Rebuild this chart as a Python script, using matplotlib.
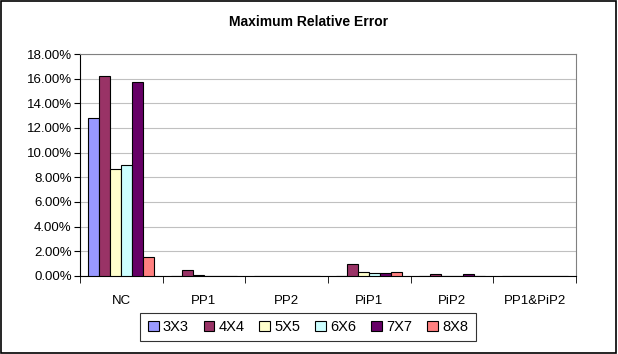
import matplotlib
matplotlib.use("Agg")
import matplotlib.pyplot as plt
import numpy as np
from matplotlib.ticker import FuncFormatter, MultipleLocator

plt.rcParams['font.family'] = ['Liberation Sans', 'DejaVu Sans']

categories = ["NC", "PP1", "PP2", "PiP1", "PiP2", "PP1&PiP2"]
series_names = ["3X3", "4X4", "5X5", "6X6", "7X7", "8X8"]
v3x3 = [12.8, 0.0, 0.0, 0.0, 0.0, 0.0]
v4x4 = [16.25, 0.45, 0.0, 1.0, 0.15, 0.0]
v5x5 = [8.65, 0.08, 0.0, 0.35, 0.0, 0.0]
v6x6 = [9.0, 0.0, 0.0, 0.25, 0.0, 0.0]
v7x7 = [15.7, 0.0, 0.0, 0.25, 0.15, 0.0]
v8x8 = [1.55, 0.0, 0.0, 0.35, 0.0, 0.0]
series_values = [v3x3, v4x4, v5x5, v6x6, v7x7, v8x8]
colors = ["#9999FF", "#993366", "#FFFFCC", "#CCFFFF", "#660066", "#FF8080"]

fig = plt.figure(figsize=(6.18, 3.54), dpi=100)
# outer border
fig.patches.append(plt.Rectangle((0.002, 0.003), 0.995, 0.994, transform=fig.transFigure,
                                 fill=False, edgecolor='black', linewidth=1.2))
ax = fig.add_axes([80/618, 1-276/354, 496/618, 222/354])

n = len(series_names)
bw = 1/7.5
x = np.arange(len(categories))
for i, (name, vals, c) in enumerate(zip(series_names, series_values, colors)):
    offs = (i - (n-1)/2) * bw
    ax.bar(x + offs, vals, width=bw, color=c, edgecolor='black', linewidth=0.8, label=name, zorder=3)

ax.set_xlim(-0.5, len(categories)-0.5)
ax.set_ylim(0, 18)
ax.yaxis.set_major_locator(MultipleLocator(2))
ax.yaxis.set_major_formatter(FuncFormatter(lambda v, p: f"{v:.2f}%"))
ax.grid(axis='y', color='#C0C0C0', linewidth=0.8, zorder=0)
ax.set_axisbelow(True)

ax.set_xticks(x)
ax.set_xticklabels(categories)
ax.set_xticks(np.arange(-0.5, len(categories), 1), minor=True)
ax.tick_params(axis='x', which='major', length=0, pad=14, labelsize=9.5)
ax.tick_params(axis='x', which='minor', length=5, direction='out', color='black')
ax.tick_params(axis='y', length=4, direction='out', labelsize=9.5, pad=2)

for s in ['top', 'right']:
    ax.spines[s].set_color('#808080')
    ax.spines[s].set_linewidth(0.8)
ax.spines['left'].set_color('black')
ax.spines['bottom'].set_color('black')

fig.text(0.5, 1-22/354, "Maximum Relative Error", ha='center', va='center',
         fontsize=10, fontweight='bold')

leg = fig.legend(loc='center', bbox_to_anchor=(308/618, 1-327/354), ncol=6,
                 frameon=True, fancybox=False, edgecolor='black', fontsize=10.5,
                 handlelength=0.75, handleheight=0.75, handletextpad=0.3, columnspacing=1.0,
                 borderpad=0.5)
leg.get_frame().set_linewidth(0.8)

fig.savefig("out.png", dpi=100)
